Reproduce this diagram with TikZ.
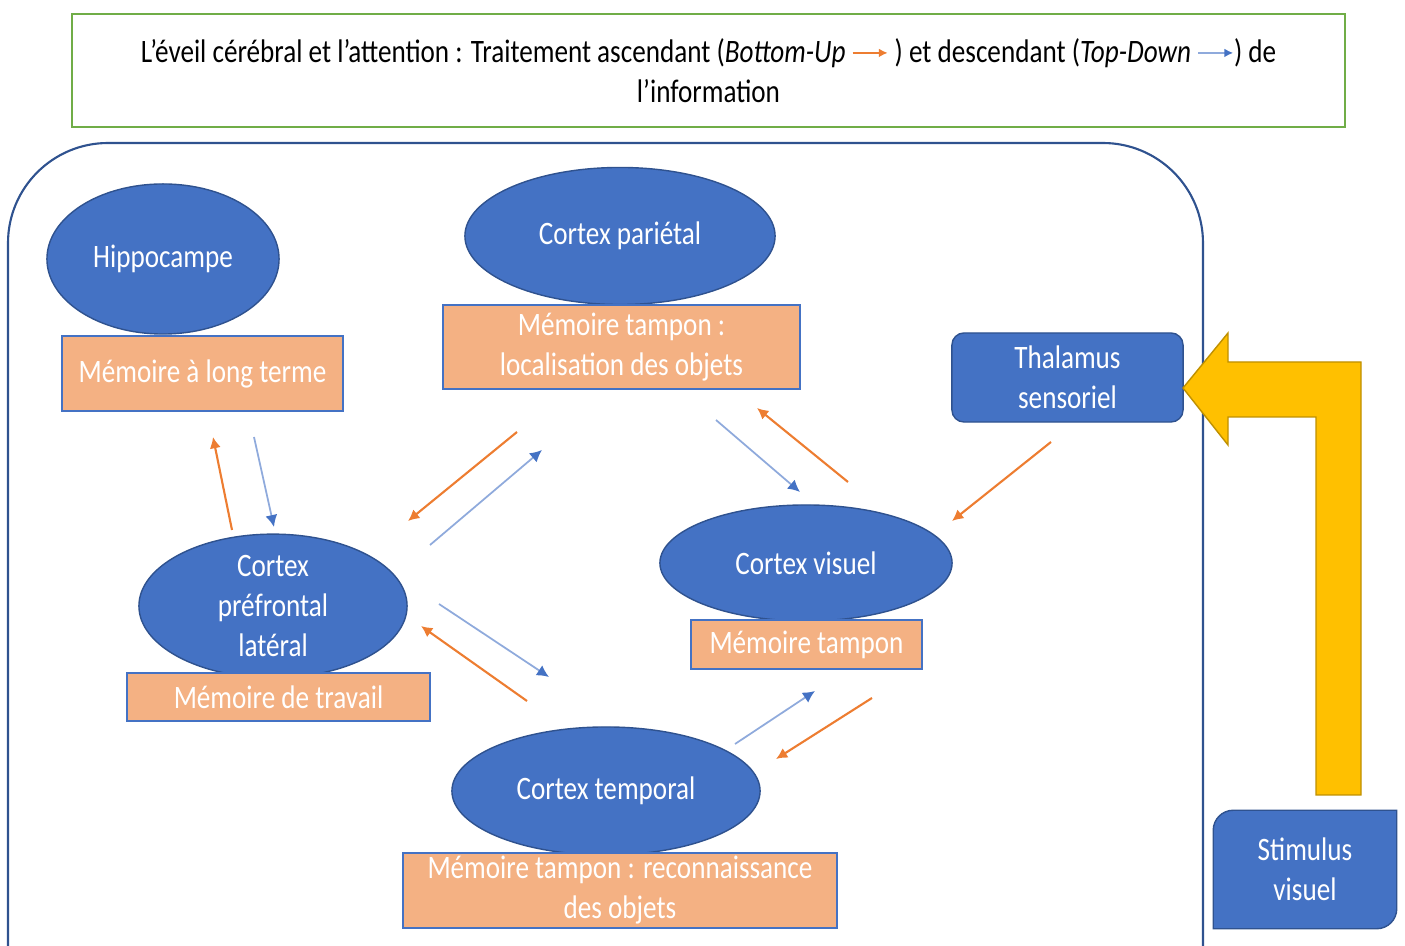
\documentclass[tikz,border=0pt]{standalone}
\usepackage{fontspec}
\setmainfont{Carlito}[FakeStretch=0.83]
\usetikzlibrary{shapes.geometric,arrows.meta,backgrounds}

\definecolor{bleu}{HTML}{4472C4}
\definecolor{bleufonce}{HTML}{2F528F}
\definecolor{bleuclair}{HTML}{8FAADC}
\definecolor{orangebu}{HTML}{ED7D31}
\definecolor{saumon}{HTML}{F4B183}
\definecolor{jaune}{HTML}{FFC000}
\definecolor{jaunefonce}{HTML}{BF9000}
\definecolor{vert}{HTML}{70AD47}

\tikzset{
  cortex/.style={ellipse, fill=bleu, draw=bleufonce, line width=0.4pt, text=white, align=center, inner sep=0pt},
  memoire/.style={rectangle, fill=saumon, draw=bleu, line width=0.6pt, text=white, align=center, inner sep=0pt},
  bu/.style={orangebu, line width=0.6pt, -{Latex[length=3.2pt,width=3.2pt]}},
  td/.style={bleuclair, line width=0.5pt, -{Latex[length=3.4pt,width=3.4pt,color=bleu]}},
}

\newcommand{\flecheBU}{\tikz[baseline=-0.6ex,x=1pt,y=1pt]\draw[orangebu,line width=0.5pt,-{Latex[length=2.5pt,width=2.5pt]}] (0,0) -- (10,0);}
\newcommand{\flecheTD}{\tikz[baseline=-0.6ex,x=1pt,y=1pt]\draw[bleuclair,line width=0.5pt,-{Latex[length=2.5pt,width=2.5pt,color=bleu]}] (0,0) -- (10,0);}

\begin{document}
\begin{tikzpicture}[x=0.01cm, y=-0.01cm, font=\fontsize{9.3}{11.4}\selectfont]
  \useasboundingbox (0,0) rectangle (1405,946);

  % cadre du titre
  \node[draw=vert, line width=0.6pt, fill=white, minimum width=12.73cm, minimum height=1.13cm, align=center]
    (titre) at (708.5,70.5) {L’éveil cérébral et l’attention : Traitement ascendant (\textit{Bottom-Up} \flecheBU{} ) et descendant (\textit{Top-Down} \flecheTD) de\\l’information};

  % le cerveau
  \draw[bleufonce, line width=0.6pt, rounded corners=1cm] (8,143) rectangle (1203,1060);

  \node[cortex, minimum width=2.32cm, minimum height=1.5cm] (hippo) at (163,259) {Hippocampe};
  \node[cortex, minimum width=3.1cm, minimum height=1.37cm] (parietal) at (620,236) {Cortex pariétal};
  \node[cortex, minimum width=2.68cm, minimum height=1.28cm] (prefrontal) at (273,606) {Cortex\\préfrontal\\latéral};
  \node[cortex, minimum width=2.92cm, minimum height=1.16cm] (visuel) at (806,563) {Cortex visuel};
  \node[cortex, minimum width=3.08cm, minimum height=1.28cm] (temporal) at (606,791) {Cortex temporal};

  \node[memoire, minimum width=2.81cm, minimum height=0.75cm] (longterme) at (202.5,373.5) {Mémoire à long terme};
  \node[memoire, minimum width=3.57cm, minimum height=0.84cm] (localisation) at (621.5,347) {Mémoire tampon :\\localisation des objets};
  \node[memoire, minimum width=3.03cm, minimum height=0.48cm] (travail) at (278.5,697) {Mémoire de travail};
  \node[memoire, minimum width=2.31cm, minimum height=0.49cm] (tampon) at (806.5,644.5) {Mémoire tampon};
  \node[memoire, minimum width=4.34cm, minimum height=0.75cm] (reconnaissance) at (620,890.5) {Mémoire tampon : reconnaissance\\des objets};

  \node[rectangle, rounded corners=0.12cm, fill=bleu, draw=bleufonce, line width=0.4pt, text=white, align=center,
    minimum width=2.31cm, minimum height=0.89cm] (thalamus) at (1067.5,377.5) {Thalamus\\sensoriel};

  % stimulus (coins arrondis en diagonale)
  \node[text=white, align=center, minimum width=1.82cm, minimum height=1.17cm] (stimulus) at (1305,869.5) {Stimulus\\visuel};
  \begin{scope}[on background layer]
    \fill[bleu, draw=bleufonce, line width=0.4pt]
      (stimulus.east) [rounded corners=0.2cm] -- (stimulus.south east) -- (stimulus.south)
      [sharp corners] -- (stimulus.south west) -- (stimulus.west)
      [rounded corners=0.2cm] -- (stimulus.north west) -- (stimulus.north)
      [sharp corners] -- (stimulus.north east) -- cycle;
  \end{scope}

  % fleche jaune
  \draw[fill=jaune, draw=jaunefonce, line width=0.4pt] (1183,388) -- (1228,333) -- (1228,362) -- (1361,362)
    -- (1361,795) -- (1316,795) -- (1316,417) -- (1228,417) -- (1228,445) -- cycle;

  % extremites des fleches
  \coordinate (a1) at (232,530); \coordinate (a2) at (213,437);
  \coordinate (b1) at (254,437); \coordinate (b2) at (274,527);
  \coordinate (c1) at (517,432); \coordinate (c2) at (408,521);
  \coordinate (d1) at (430,545); \coordinate (d2) at (542,450);
  \coordinate (e1) at (716,420); \coordinate (e2) at (800,492);
  \coordinate (f1) at (848,482); \coordinate (f2) at (757,408);
  \coordinate (g1) at (1051,442); \coordinate (g2) at (952,521);
  \coordinate (h1) at (439,604); \coordinate (h2) at (549,677);
  \coordinate (i1) at (527,701); \coordinate (i2) at (421,626);
  \coordinate (j1) at (735,744); \coordinate (j2) at (815,691);
  \coordinate (k1) at (872,698); \coordinate (k2) at (776,759);

  % bottom-up
  \draw[bu] (a1) -- (a2);
  \draw[bu] (c1) -- (c2);
  \draw[bu] (f1) -- (f2);
  \draw[bu] (g1) -- (g2);
  \draw[bu] (i1) -- (i2);
  \draw[bu] (k1) -- (k2);
  % top-down
  \draw[td] (b1) -- (b2);
  \draw[td] (d1) -- (d2);
  \draw[td] (e1) -- (e2);
  \draw[td] (h1) -- (h2);
  \draw[td] (j1) -- (j2);

\end{tikzpicture}
\end{document}
